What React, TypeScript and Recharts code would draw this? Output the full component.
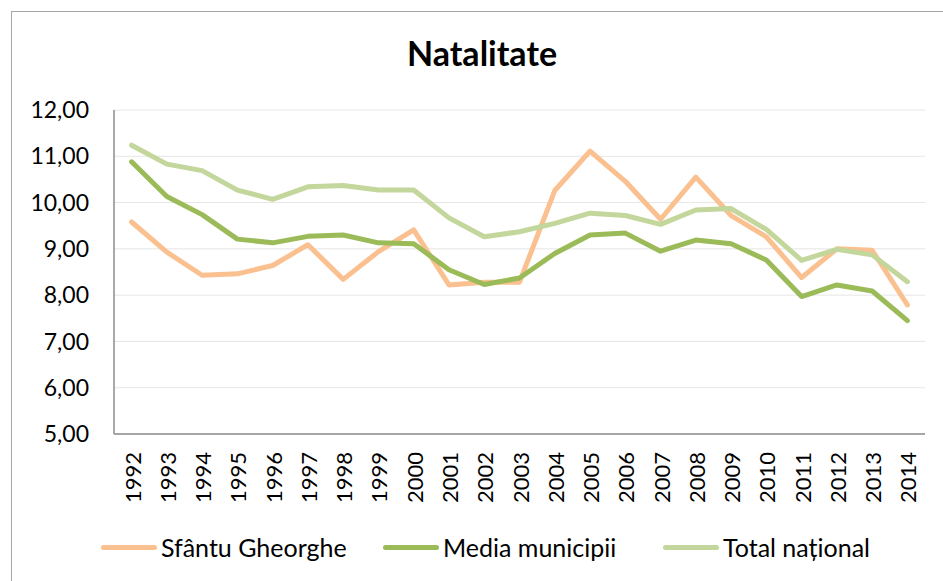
import React from 'react'
import { LineChart, Line, XAxis, YAxis, CartesianGrid } from 'recharts'

const years = ['1992', '1993', '1994', '1995', '1996', '1997', '1998', '1999', '2000', '2001', '2002', '2003', '2004', '2005', '2006', '2007', '2008', '2009', '2010', '2011', '2012', '2013', '2014']
const sfantuGheorghe = [9.58, 8.93, 8.43, 8.46, 8.64, 9.09, 8.34, 8.94, 9.41, 8.22, 8.28, 8.28, 10.26, 11.11, 10.46, 9.64, 10.55, 9.72, 9.26, 8.38, 9.0, 8.97, 7.79]
const mediaMunicipii = [10.88, 10.13, 9.74, 9.21, 9.13, 9.27, 9.3, 9.13, 9.11, 8.55, 8.23, 8.37, 8.9, 9.3, 9.34, 8.95, 9.19, 9.11, 8.76, 7.97, 8.22, 8.09, 7.45]
const totalNational = [11.24, 10.83, 10.69, 10.27, 10.07, 10.34, 10.37, 10.27, 10.27, 9.67, 9.26, 9.37, 9.55, 9.77, 9.72, 9.53, 9.84, 9.87, 9.42, 8.75, 8.99, 8.87, 8.29]
const yTicks = [5, 6, 7, 8, 9, 10, 11, 12]

const data = years.map((year, i) => ({
  year,
  sfantu: sfantuGheorghe[i],
  media: mediaMunicipii[i],
  total: totalNational[i],
}))

const series = [
  { key: 'sfantu', name: 'Sfântu Gheorghe', color: '#fac090', legendX: 101 },
  { key: 'media', name: 'Media municipii', color: '#9bbb59', legendX: 383 },
  { key: 'total', name: 'Total național', color: '#c3d69b', legendX: 663 },
]

const font = 'Lato, "Open Sans", sans-serif'

const YearTick = ({ x, y, payload }: any) => (
  <text x={x} y={y} dy={9} transform={`rotate(-90 ${x} ${y})`} textAnchor="end" fontSize={22} fill="#000" fontFamily={font}>
    {payload.value}
  </text>
)

export default function App() {
  return (
    <div style={{ position: 'relative', width: 943, height: 581, overflow: 'hidden', background: '#fff', fontFamily: font }}>
      <style>{'body{margin:0;overflow:hidden}'}</style>
      <div style={{ position: 'absolute', left: 11, top: 11, width: 960, height: 600, border: '1px solid #a6a6a6' }} />
      <div style={{ position: 'absolute', left: 0, top: 0 }}>
        <LineChart width={943} height={581} data={data} margin={{ top: 110, right: 18, bottom: 0, left: 0 }}>
          <CartesianGrid vertical={false} stroke="#e6e6e6" strokeWidth={1} />
          <XAxis
            dataKey="year"
            height={147}
            interval={0}
            tick={<YearTick />}
            tickLine={false}
            tickSize={0}
            tickMargin={18}
            padding={{ left: 17.6, right: 17.6 }}
            axisLine={{ stroke: '#8c8c8c', strokeWidth: 1.5 }}
          />
          <YAxis
            width={114}
            domain={[5, 12]}
            ticks={yTicks}
            interval={0}
            tickFormatter={(v: number) => v.toFixed(2).replace('.', ',')}
            tick={{ fontSize: 23, fill: '#000', fontFamily: font }}
            tickLine={false}
            tickSize={0}
            tickMargin={25}
            axisLine={{ stroke: '#8c8c8c', strokeWidth: 1.5 }}
          />
          {series.map(s => (
            <Line
              key={s.key}
              type="linear"
              dataKey={s.key}
              name={s.name}
              stroke={s.color}
              strokeWidth={5}
              strokeLinecap="round"
              strokeLinejoin="round"
              dot={false}
              activeDot={false}
              isAnimationActive={false}
            />
          ))}
        </LineChart>
      </div>
      <div style={{ position: 'absolute', left: 0, top: 33, width: 964, textAlign: 'center', fontSize: 34, fontWeight: 700, lineHeight: '40px' }}>
        Natalitate
      </div>
      {series.map(s => (
        <div key={s.key} style={{ position: 'absolute', left: s.legendX, top: 532, height: 30, display: 'flex', alignItems: 'center', fontSize: 25, whiteSpace: 'nowrap' }}>
          <span style={{ display: 'inline-block', width: 56, height: 5, borderRadius: 3, background: s.color, marginRight: 4 }} />
          {s.name}
        </div>
      ))}
    </div>
  )
}
